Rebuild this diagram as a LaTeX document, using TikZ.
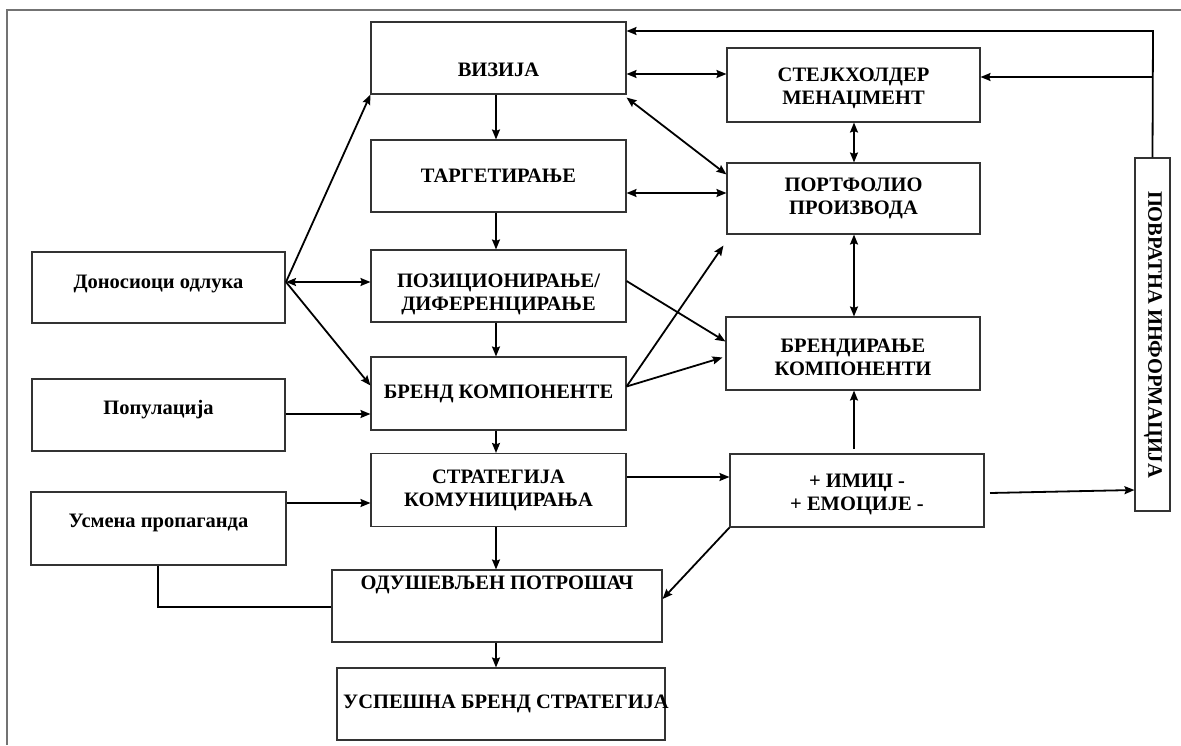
\documentclass[tikz,border=0pt]{standalone}
\usepackage{fontspec}
\setmainfont{Liberation Serif}
\usetikzlibrary{arrows.meta,calc}
\begin{document}
\begin{tikzpicture}[x=1pt,y=-1pt,
  box/.style={draw=black!80,line width=1.1pt,inner sep=0pt,align=center,font=\bfseries\fontsize{20.5}{23}\selectfont},
  txt/.style={inner sep=0pt,align=center,font=\bfseries\fontsize{20.5}{23}\selectfont},
  arr/.style={line width=1.8pt,-{Stealth[length=10pt,width=8pt,inset=1.5pt]}},
  darr/.style={line width=1.8pt,{Stealth[length=10pt,width=8pt,inset=1.5pt]}-{Stealth[length=10pt,width=8pt,inset=1.5pt]}},
  ln/.style={line width=2.2pt},
  frame/.style={draw=black!55,line width=1.5pt}
  ]
\useasboundingbox (0,0) rectangle (1181,745);
\draw[frame] (7,745) -- (7,10) -- (1181,10);

% centre column
\node[box,minimum width=255pt,minimum height=72pt] (viz) at (498.5,58) {};
\node[txt] (vizt) at (498.5,70) {ВИЗИЈА};
\node[box,minimum width=255pt,minimum height=72pt] (tar) at (498.5,176) {ТАРГЕТИРАЊЕ};
\node[box,minimum width=255pt,minimum height=72pt] (poz) at (498.5,286) {};
\node[txt] (pozt) at (498.5,294) {ПОЗИЦИОНИРАЊЕ/\\ДИФЕРЕНЦИРАЊЕ};
\node[box,minimum width=255pt,minimum height=73pt] (brk) at (498.5,393.5) {БРЕНД КОМПОНЕНТЕ};
\node[box,minimum width=255pt,minimum height=73pt] (str) at (498.5,490) {СТРАТЕГИЈА\\КОМУНИЦИРАЊА};
\node[box,minimum width=330pt,minimum height=72pt] (odu) at (497,606) {};
\node[txt] (odut) at (497,585) {ОДУШЕВЉЕН ПОТРОШАЧ};
\node[box,minimum width=328pt,minimum height=72pt] (usp) at (501,704) {};
\node[txt] (uspt) at (506,704) {УСПЕШНА БРЕНД СТРАТЕГИЈА};

% left column
\node[box,minimum width=253pt,minimum height=71pt] (don) at (158.5,287.5) {};
\node[txt] (dont) at (158.5,284) {Доносиоци одлука};
\node[box,minimum width=253pt,minimum height=72pt] (pop) at (158.5,415) {};
\node[txt] (popt) at (158.5,410) {Популација};
\node[box,minimum width=255pt,minimum height=73pt] (usm) at (158.5,528.5) {};
\node[txt] (usmt) at (158.5,523) {Усмена пропаганда};

% right column
\node[box,minimum width=253pt,minimum height=74pt] (stk) at (853.5,85) {};
\node[txt] (stkt) at (853.5,88) {СТЕЈКХОЛДЕР\\МЕНАЏМЕНТ};
\node[box,minimum width=253pt,minimum height=71pt] (prt) at (853.5,198.5) {ПОРТФОЛИО\\ПРОИЗВОДА};
\node[box,minimum width=254pt,minimum height=73pt] (brd) at (853,353.5) {};
\node[txt] (brdt) at (853,357) {БРЕНДИРАЊЕ\\КОМПОНЕНТИ};
\node[box,minimum width=254pt,minimum height=73pt] (ima) at (857,490.5) {};
\node[txt] (imat) at (857,494) {+ ИМИЏ -\\+ ЕМОЦИЈЕ -};
\node[box,minimum width=35pt,minimum height=353pt] (pov) at (1152.5,334.5) {};
\node[txt,rotate=-90] (povt) at (1153,334.5) {ПОВРАТНА ИНФОРМАЦИЈА};

% centre vertical arrows
\draw[arr] (viz.south -| 496,0) -- (tar.north -| 496,0);
\draw[arr] (tar.south -| 496,0) -- (poz.north -| 496,0);
\draw[arr] (poz.south -| 496,0) -- (brk.north -| 496,0);
\draw[arr] (brk.south -| 496,0) -- (str.north -| 496,0);
\draw[arr] (str.south -| 496,0) -- (odu.north -| 496,0);
\draw[arr] (odu.south -| 496,0) -- (usp.north -| 496,0);

% left connectors
\coordinate (dn) at (286,282);
\draw[arr] (dn) -- (viz.south west);
\draw[darr] (dn) -- (poz.west |- dn);
\draw[arr] (dn) -- ($(brk.west)+(0,-8)$);
\draw[arr] (pop.east |- 0,414) -- (brk.west |- 0,414);
\draw[arr] (usm.east |- 0,503) -- (str.west |- 0,503);
\draw[ln] (usm.south -| 158,0) -- (158,607) -- (odu.west |- 0,607);

% right connectors
\draw[darr] (viz.east |- 0,74) -- (stk.west |- 0,74);
\draw[darr] ($(viz.south east)+(0,3)$) -- ($(prt.north west)+(0,12)$);
\draw[darr] (tar.east |- 0,193) -- (prt.west |- 0,193);
\draw[darr] (stk.south -| 854,0) -- (prt.north -| 854,0);
\draw[darr] (prt.south -| 854,0) -- (brd.north -| 854,0);
\coordinate (imt) at (854,449);
\draw[arr] (imt) -- (brd.south -| imt);
\draw[arr] ($(poz.east)+(0,-5)$) -- ($(brd.west)+(0,-12)$);
\draw[arr] ($(brk.east)+(0,-7)$) -- ($(prt.south west)+(-3,11)$);
\draw[arr] ($(brk.east)+(0,-7)$) -- ($(brd.west)+(-3,4)$);
\draw[arr] (str.east |- 0,477) -- (ima.west |- 0,477);
\draw[arr] (ima.south west) -- ($(odu.east)+(0,-7)$);
\coordinate (ims) at (990,493);
\draw[arr] (ims) -- (pov.west |- 0,490);

% feedback
\draw[arr] (pov.north) -- (1153,31) -- (viz.east |- 0,31);
\draw[arr] (1153,77) -- (stk.east |- 0,77);
\end{tikzpicture}
\end{document}
